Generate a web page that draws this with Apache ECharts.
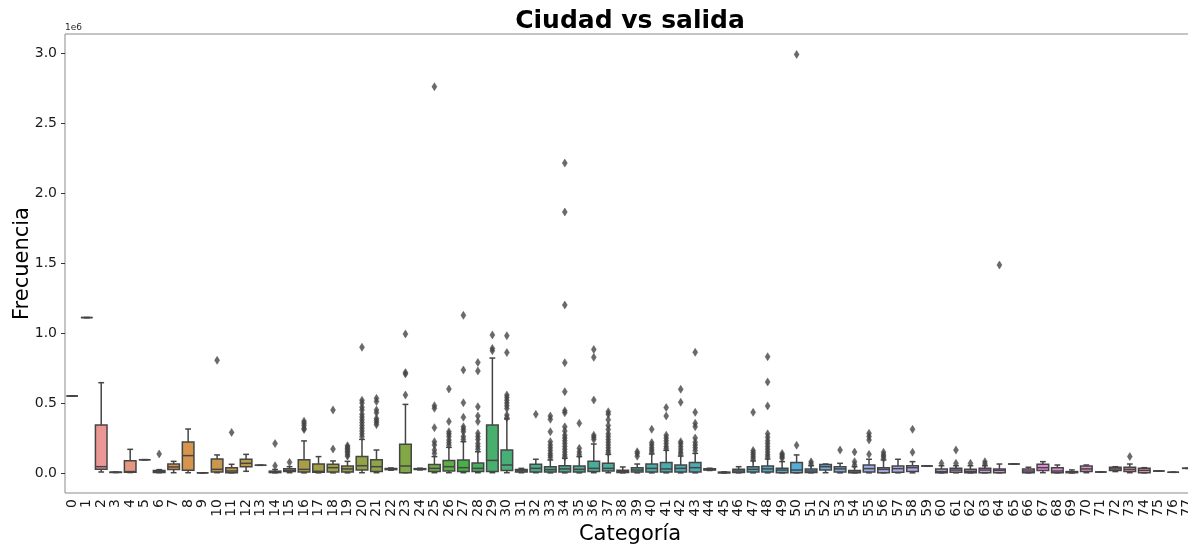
<!DOCTYPE html>
<html><head><meta charset="utf-8">
<script src="https://cdn.jsdelivr.net/npm/echarts@6/dist/echarts.min.js"></script>
<style>html,body{margin:0;padding:0;background:#fff}#c{width:1188px;height:546px}</style>
</head><body><div id="c"></div>
<script>
// Categories (x tick labels)
const categories = ['0','1','2','3','4','5','6','7','8','9','10','11','12','13','14','15','16','17','18','19',
'20','21','22','23','24','25','26','27','28','29','30','31','32','33','34','35','36','37','38','39',
'40','41','42','43','44','45','46','47','48','49','50','51','52','53','54','55','56','57','58','59',
'60','61','62','63','64','65','66','67','68','69','70','71','72','73','74','75','76','77'];

// Box statistics per category, values in units of 1e6: [min, Q1, median, Q3, max]
const boxStats = [
[0.55,0.55,0.55,0.55,0.55],[1.11,1.11,1.11,1.11,1.11],[0.007,0.026,0.045,0.343,0.645],[0.003,0.004,0.005,0.006,0.007],
[0.003,0.005,0.010,0.088,0.169],[0.095,0.095,0.095,0.095,0.095],[0.002,0.004,0.009,0.018,0.024],[0.002,0.024,0.043,0.064,0.083],
[0.002,0.019,0.124,0.221,0.314],[0.001,0.001,0.001,0.001,0.001],[0.002,0.007,0.026,0.100,0.129],[0.001,0.002,0.014,0.038,0.062],
[0.012,0.045,0.069,0.098,0.133],[0.055,0.055,0.055,0.055,0.055],[0.001,0.003,0.006,0.013,0.025],[0.002,0.010,0.018,0.030,0.045],
[0.001,0.007,0.026,0.095,0.229],[0.001,0.005,0.012,0.064,0.117],[0.001,0.007,0.038,0.062,0.086],[0.001,0.007,0.029,0.050,0.083],
[0.002,0.021,0.052,0.117,0.240],[0.002,0.010,0.045,0.095,0.164],[0.020,0.024,0.028,0.032,0.036],[0.002,0.002,0.050,0.205,0.490],
[0.022,0.025,0.028,0.031,0.034],[0.002,0.010,0.033,0.060,0.117],[0.002,0.014,0.045,0.090,0.183],[0.002,0.010,0.038,0.093,0.224],
[0.002,0.010,0.033,0.071,0.152],[0.002,0.010,0.090,0.343,0.821],[0.002,0.017,0.057,0.164,0.386],[0.002,0.007,0.015,0.025,0.033],
[0.002,0.007,0.033,0.062,0.098],[0.001,0.007,0.024,0.045,0.093],[0.001,0.007,0.029,0.052,0.105],[0.001,0.007,0.026,0.050,0.117],
[0.002,0.010,0.033,0.083,0.207],[0.002,0.014,0.033,0.069,0.133],[0.001,0.004,0.010,0.020,0.043],[0.001,0.007,0.021,0.038,0.064],
[0.001,0.007,0.033,0.064,0.136],[0.001,0.007,0.029,0.074,0.162],[0.001,0.007,0.033,0.057,0.121],[0.001,0.007,0.038,0.074,0.140],
[0.018,0.021,0.025,0.030,0.034],[0.000,0.001,0.003,0.006,0.008],[0.001,0.003,0.014,0.026,0.045],[0.001,0.007,0.026,0.045,0.086],
[0.001,0.007,0.029,0.050,0.100],[0.001,0.002,0.021,0.033,0.081],[0.001,0.002,0.021,0.074,0.129],[0.001,0.003,0.014,0.029,0.052],
[0.002,0.021,0.045,0.060,0.064],[0.001,0.007,0.029,0.045,0.069],[0.001,0.002,0.007,0.017,0.045],[0.001,0.007,0.031,0.057,0.098],
[0.001,0.002,0.026,0.038,0.093],[0.001,0.005,0.031,0.050,0.098],[0.001,0.010,0.038,0.052,0.081],[0.050,0.050,0.050,0.050,0.050],
[0.001,0.002,0.010,0.029,0.052],[0.001,0.005,0.021,0.033,0.052],[0.001,0.002,0.012,0.026,0.052],[0.001,0.002,0.021,0.033,0.052],
[0.001,0.002,0.019,0.029,0.064],[0.064,0.064,0.064,0.064,0.064],[0.001,0.002,0.014,0.029,0.041],[0.002,0.017,0.038,0.062,0.081],
[0.001,0.002,0.014,0.038,0.057],[0.000,0.002,0.006,0.010,0.022],[0.002,0.010,0.029,0.050,0.057],[0.007,0.007,0.007,0.007,0.007],
[0.010,0.017,0.029,0.041,0.045],[0.002,0.010,0.026,0.041,0.064],[0.001,0.002,0.019,0.033,0.038],[0.014,0.014,0.014,0.014,0.014],
[0.005,0.005,0.005,0.005,0.005],[0.033,0.033,0.033,0.033,0.033]
];

// Outliers per category (units of 1e6)
const fliers = [
[],[],[],[],[],[],[0.136],[],[],[],[0.805],[0.29],[],[],[0.21,0.052],[0.076],
[0.37,0.355,0.34,0.32,0.31],[],[0.45,0.171],[0.195,0.185,0.175,0.165,0.155,0.145,0.13,0.12],
[0.898,0.52,0.50,0.47,0.45,0.42,0.40,0.38,0.36,0.34,0.32,0.30,0.28,0.26],
[0.533,0.51,0.45,0.43,0.39,0.375,0.36,0.345],[],[0.993,0.717,0.707,0.557],[],
[2.76,0.481,0.462,0.324,0.224,0.2,0.164,0.14],
[0.6,0.367,0.295,0.279,0.26,0.236,0.217,0.2],
[1.126,0.736,0.502,0.398,0.33,0.312,0.295,0.26,0.24],
[0.79,0.729,0.474,0.407,0.367,0.283,0.26,0.24,0.21,0.19,0.17],
[0.986,0.89,0.874],
[0.981,0.86,0.557,0.54,0.52,0.50,0.48,0.46,0.414,0.395],[],[0.419],
[0.407,0.383,0.295,0.224,0.2,0.18,0.16,0.14,0.125,0.11],
[2.214,1.864,1.2,0.788,0.581,0.445,0.43,0.33,0.30,0.27,0.25,0.23,0.21,0.19,0.17,0.15,0.13,0.115],
[0.355,0.176,0.15,0.13],
[0.883,0.826,0.521,0.27,0.255,0.24],
[0.438,0.42,0.38,0.34,0.31,0.28,0.26,0.24,0.22,0.20,0.18,0.16,0.145],
[],[0.152,0.14,0.12],[0.312,0.217,0.2,0.18,0.165,0.15],
[0.467,0.407,0.27,0.25,0.23,0.21,0.19,0.175],
[0.598,0.505,0.224,0.21,0.19,0.17,0.15,0.135],
[0.862,0.433,0.355,0.331,0.25,0.22,0.2,0.18,0.16],[],[],[],
[0.433,0.16,0.145,0.13,0.115,0.10],
[0.831,0.65,0.479,0.28,0.255,0.23,0.21,0.19,0.17,0.15,0.13,0.115],
[0.14,0.128,0.116,0.105],[2.99,0.198],[0.08,0.065],[],[0.164],[0.15,0.081,0.057],
[0.283,0.26,0.236,0.133],[0.148,0.13,0.12,0.105],[],[0.312,0.148],[],
[0.069],[0.164,0.069],[0.069],[0.081,0.064],[1.486],[],[],[],[],[],[],[],[],[0.117],[],[],[],[]
];

const yTicks = [0, 0.5, 1.0, 1.5, 2.0, 2.5, 3.0];

// ---- seaborn-style husl palette (h=.01, s=.9, l=.7), desaturated by .75 ----
function huslToRgb(H, S, L) {
  const M = [[3.2406,-1.5372,-0.4986],[-0.9689,1.8758,0.0415],[0.0557,-0.2040,1.0570]];
  const hr = H * Math.PI / 180, sinH = Math.sin(hr), cosH = Math.cos(hr);
  const sub1 = Math.pow(L + 16, 3) / 1560896.0;
  const sub2 = sub1 > 0.008856 ? sub1 : L / 903.3;
  let mx = Infinity;
  for (const [m1, m2, m3] of M) {
    const top = (0.99915*m1 + 1.05122*m2 + 1.14460*m3) * sub2;
    const rb = 0.86330*m3 - 0.17266*m2, lb = 0.12949*m3 - 0.38848*m1;
    const bottom = (rb*sinH + lb*cosH) * sub2;
    for (const t of [0, 1]) {
      const C = L * (top - 1.05122*t) / (bottom + 0.17266*sinH*t);
      if (C > 0 && C < mx) mx = C;
    }
  }
  const C = mx / 100 * S;
  const U = Math.cos(hr) * C, V = Math.sin(hr) * C;
  const t = (L + 16) / 116;
  const Y = Math.pow(t, 3) > 0.008856 ? Math.pow(t, 3) : (116*t - 16) / 903.3;
  const vU = U / (13*L) + 0.19784, vV = V / (13*L) + 0.46834;
  const X = -(9*Y*vU) / ((vU - 4)*vV - vU*vV);
  const Z = (9*Y - 15*vV*Y - vV*X) / (3*vV);
  return M.map(r => {
    const c = r[0]*X + r[1]*Y + r[2]*Z;
    const v = c <= 0.0031308 ? 12.92*c : 1.055*Math.pow(c, 1/2.4) - 0.055;
    return Math.min(1, Math.max(0, v));
  });
}
function rgbToHls(r, g, b) {
  const mx = Math.max(r,g,b), mn = Math.min(r,g,b), l = (mx+mn)/2;
  if (mx === mn) return [0, l, 0];
  const s = l <= 0.5 ? (mx-mn)/(mx+mn) : (mx-mn)/(2-mx-mn);
  const rc = (mx-r)/(mx-mn), gc = (mx-g)/(mx-mn), bc = (mx-b)/(mx-mn);
  let h = r === mx ? bc-gc : (g === mx ? 2+rc-bc : 4+gc-rc);
  h = ((h/6) % 1 + 1) % 1;
  return [h, l, s];
}
function hlsToRgb(h, l, s) {
  if (s === 0) return [l, l, l];
  const m2 = l <= 0.5 ? l*(1+s) : l+s-l*s, m1 = 2*l - m2;
  const v = hue => { hue = ((hue % 1) + 1) % 1;
    if (hue < 1/6) return m1 + (m2-m1)*hue*6;
    if (hue < 0.5) return m2;
    if (hue < 2/3) return m1 + (m2-m1)*(2/3-hue)*6;
    return m1; };
  return [v(h+1/3), v(h), v(h-1/3)];
}
const n = categories.length;
const rgbCols = categories.map((_, i) => {
  let h = (i / n + 0.01) % 1;
  const rgb = huslToRgb(h*359, 0.9*99, 0.7*99);
  const [hh, ll, ss] = rgbToHls(...rgb);
  return hlsToRgb(hh, ll, ss*0.75);
});
const toHex = c => '#' + c.map(v => Math.round(v*255).toString(16).padStart(2,'0')).join('');
const colors = rgbCols.map(toHex);
const lum = Math.min(...rgbCols.map(c => rgbToHls(...c)[1])) * 0.6;
const gray = toHex([lum, lum, lum]);

const boxData = boxStats.map((s, i) => [i, ...s]);
const flierData = [];
fliers.forEach((arr, i) => arr.forEach(v => flierData.push([i, v])));

const FONT = '"DejaVu Sans", sans-serif';
const chart = echarts.init(document.getElementById('c'), null, {renderer: 'canvas'});
chart.setOption({
  animation: false,
  backgroundColor: '#fff',
  grid: {left: 65, top: 34, bottom: 53, width: 1130, containLabel: false, outerBoundsMode: 'none',
    show: true, borderColor: '#8a8a8a', borderWidth: 1, backgroundColor: 'transparent'},
  graphic: [
    {type: 'text', x: 630, y: 21, style: {text: 'Ciudad vs salida', font: 'bold 25px ' + FONT, fill: '#000',
      align: 'center', verticalAlign: 'middle', textAlign: 'center', textVerticalAlign: 'middle'}},
    {type: 'text', x: 65, y: 32, style: {text: '1e6', font: '9px ' + FONT, fill: '#262626',
      align: 'left', verticalAlign: 'bottom', textAlign: 'left', textVerticalAlign: 'bottom'}}
  ],
  xAxis: {
    type: 'category', data: categories, boundaryGap: true,
    name: 'Categoría', nameLocation: 'middle', nameGap: 31, nameMoveOverlap: false,
    nameTextStyle: {fontFamily: FONT, fontSize: 21, color: '#000'},
    axisLine: {show: false},
    axisTick: {alignWithLabel: true, length: 4, lineStyle: {color: '#333'}},
    axisLabel: {interval: 0, rotate: 90, fontFamily: FONT, fontSize: 14, color: '#1a1a1a', margin: 6},
    splitLine: {show: false}
  },
  yAxis: {
    type: 'value', min: -0.143, max: 3.136,
    name: 'Frecuencia', nameLocation: 'middle', nameGap: 32, nameMoveOverlap: false,
    nameTextStyle: {fontFamily: FONT, fontSize: 21, color: '#000'},
    axisLine: {show: false},
    axisTick: {show: true, length: 4, customValues: yTicks, lineStyle: {color: '#333'}},
    axisLabel: {customValues: yTicks, formatter: v => Number(v).toFixed(1), fontFamily: FONT, fontSize: 14, color: '#1a1a1a', margin: 8},
    splitLine: {show: false}
  },
  series: [
    {
      type: 'custom', data: boxData, encode: {x: 0, y: [1,2,3,4,5]}, clip: true, z: 2,
      renderItem: function (params, api) {
        const i = api.value(0);
        const pMin = api.coord([i, api.value(1)]);
        const pQ1 = api.coord([i, api.value(2)]);
        const pMed = api.coord([i, api.value(3)]);
        const pQ3 = api.coord([i, api.value(4)]);
        const pMax = api.coord([i, api.value(5)]);
        const bw = api.size([1, 0])[0] * 0.8;
        const cw = bw * 0.5;
        const x = pQ1[0];
        const st = {stroke: gray, lineWidth: 1.5, fill: null};
        return {type: 'group', children: [
          {type: 'line', shape: {x1: x, y1: pQ1[1], x2: x, y2: pMin[1]}, style: st},
          {type: 'line', shape: {x1: x, y1: pQ3[1], x2: x, y2: pMax[1]}, style: st},
          {type: 'line', shape: {x1: x - cw/2, y1: pMin[1], x2: x + cw/2, y2: pMin[1]}, style: st},
          {type: 'line', shape: {x1: x - cw/2, y1: pMax[1], x2: x + cw/2, y2: pMax[1]}, style: st},
          {type: 'rect', shape: {x: x - bw/2, y: pQ3[1], width: bw, height: pQ1[1] - pQ3[1]},
            style: {fill: colors[i], stroke: gray, lineWidth: 1.5}},
          {type: 'line', shape: {x1: x - bw/2, y1: pMed[1], x2: x + bw/2, y2: pMed[1]}, style: st}
        ]};
      }
    },
    {
      type: 'scatter', data: flierData, symbol: 'diamond', symbolSize: [5, 8], z: 3,
      itemStyle: {color: gray, borderColor: gray, borderWidth: 0.5}
    }
  ]
});
</script></body></html>
